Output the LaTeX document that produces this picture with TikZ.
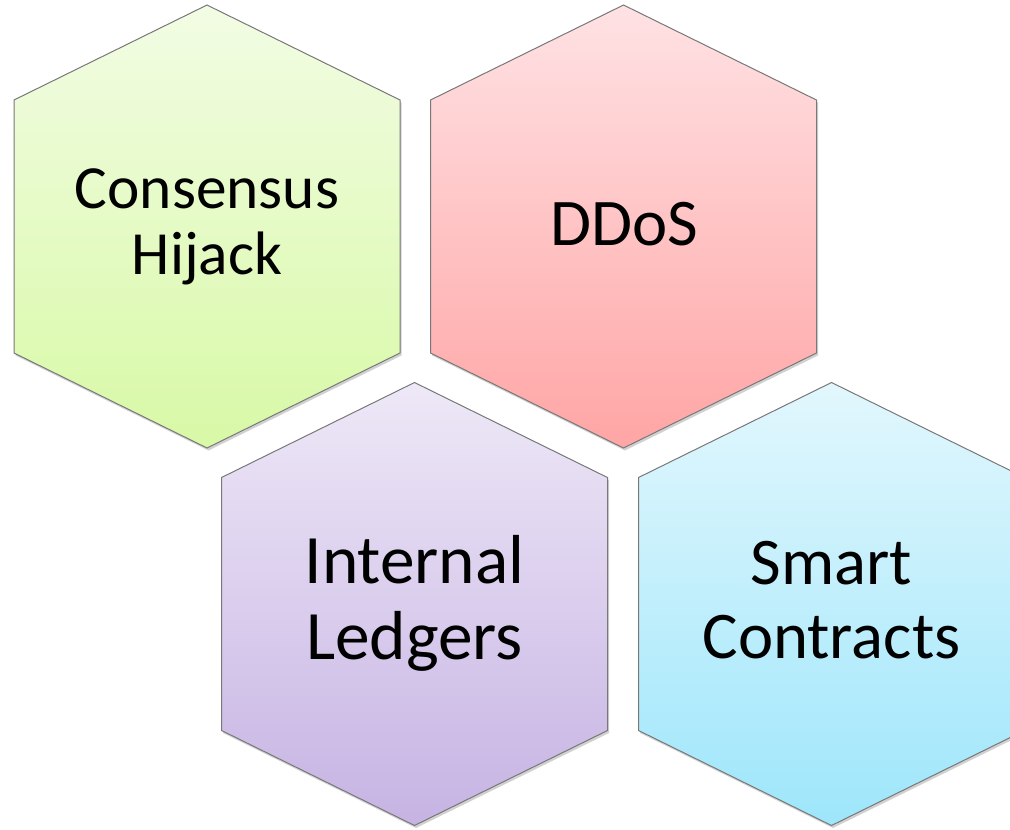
\documentclass[tikz,border=0pt]{standalone}
\usepackage{fontspec}
\setmainfont{Carlito}
\usepackage{tikz}

\definecolor{hexLine}{RGB}{120,120,120}
\definecolor{consTop}{RGB}{242,252,228}
\definecolor{consBot}{RGB}{216,249,166}
\definecolor{ddosTop}{RGB}{255,226,228}
\definecolor{ddosBot}{RGB}{255,165,165}
\definecolor{ledgTop}{RGB}{238,232,247}
\definecolor{ledgBot}{RGB}{198,179,227}
\definecolor{smrtTop}{RGB}{226,247,253}
\definecolor{smrtBot}{RGB}{158,230,251}

\tikzset{
  hexlabel/.style 2 args={align=center,inner sep=0.75pt,font=\fontsize{#1}{#2}\selectfont},
  hexshadow/.style={fill=black,opacity=0.18}
}

% hexagon round centre #1,#2
\newcommand{\hexpath}[2]{(#1,#2-221.5) -- (#1+193,#2-126.5) -- (#1+193,#2+126.5) -- (#1,#2+221.5) -- (#1-193,#2+126.5) -- (#1-193,#2-126.5) -- cycle}

\begin{document}
\begin{tikzpicture}[x=0.75pt,y=0.75pt,yscale=-1,xscale=1]
\useasboundingbox (0,0) rectangle (1010,829);
\clip (0,0) rectangle (1010,829);

%Shape: Hexagon [id:hexConsensus]
\fill[hexshadow] \hexpath{208.5}{229};
\shade[top color=consTop,bottom color=consBot,draw=hexLine,line width=0.75] \hexpath{207}{226.5};
%Shape: Hexagon [id:hexDDoS]
\fill[hexshadow] \hexpath{625}{229};
\shade[top color=ddosTop,bottom color=ddosBot,draw=hexLine,line width=0.75] \hexpath{623.5}{226.5};
%Shape: Hexagon [id:hexLedgers]
\fill[hexshadow] \hexpath{416}{606.5};
\shade[top color=ledgTop,bottom color=ledgBot,draw=hexLine,line width=0.75] \hexpath{414.5}{604};
%Shape: Hexagon [id:hexContracts]
\fill[hexshadow] \hexpath{833}{606.5};
\shade[top color=smrtTop,bottom color=smrtBot,draw=hexLine,line width=0.75] \hexpath{831.5}{604};

% Text Node
\node[hexlabel={46}{49.5}] (consensus) at (207,227) {Consensus\\Hijack};
% Text Node
\node[hexlabel={50}{54}] (ddos) at (624.5,224) {DDoS};
% Text Node
\node[hexlabel={52}{57}] (ledgers) at (414.5,603) {Internal\\Ledgers};
% Text Node
\node[hexlabel={50}{55}] (contracts) at (831.5,600) {Smart\\Contracts};

\end{tikzpicture}
\end{document}
